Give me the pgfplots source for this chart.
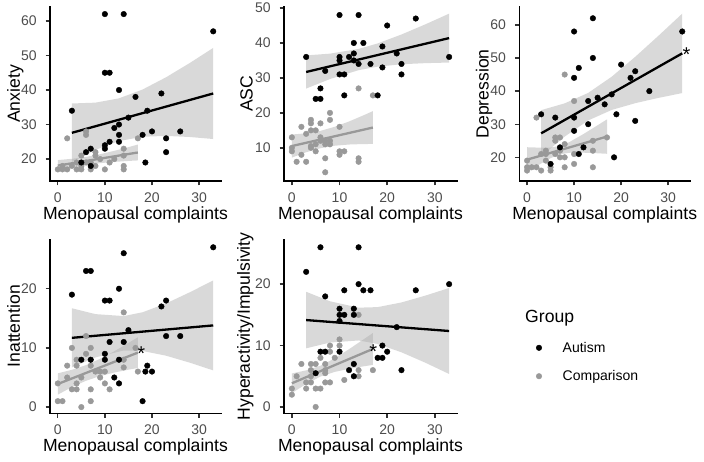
\documentclass[border=0pt]{standalone}
\usepackage{pgfplots}
\pgfplotsset{compat=1.18}
\usepackage{fontspec}
\setmainfont{Liberation Sans}
\definecolor{cgrey}{HTML}{999999}
\definecolor{ribc}{HTML}{B0B0B0}
\definecolor{ticklab}{HTML}{4D4D4D}
\definecolor{tickc}{HTML}{333333}
\newcommand{\titlefont}{\fontsize{17.6}{20}\selectfont}
\newcommand{\tickfont}{\fontsize{14}{16}\selectfont}
\tikzset{astnode/.style={font=\fontsize{20}{22}\selectfont, inner sep=0pt, anchor=center, yshift=-4.2pt},
  ttl/.style={font=\titlefont, inner sep=0pt}}
\pgfplotsset{
  panel/.style={
    scale only axis, height=174pt,
    xmin=-1.65, xmax=34.65,
    axis lines=left, axis line style={-, line width=1.6pt, black, line cap=rect},
    tick align=outside, major tick length=4.4pt,
    tick style={tickc, line width=1.4pt},
    minor tick num=0,
    xtick={0,10,20,30},
    tick label style={font=\tickfont, text=ticklab, inner sep=0pt},
    xticklabel style={anchor=north, yshift=-7pt},
    yticklabel style={anchor=east, xshift=-8.7pt},
    /pgf/number format/assume math mode=true,
    clip=false,
  },
  apt/.style={only marks, mark=*, mark size=2.8pt, black},
  cpt/.style={only marks, mark=*, mark size=2.8pt, color=cgrey},
  rib/.style={fill=ribc, fill opacity=0.48, draw=none},
  aln/.style={black, line width=2.3pt, no marks},
  cln/.style={cgrey, line width=2.3pt, no marks},
}
\begin{document}
\begin{tikzpicture}[x=1pt,y=1pt]
\path[use as bounding box] (0,0) rectangle (704,461);

% ---------- Anxiety ----------
\begin{axis}[panel, at={(50pt,280pt)}, anchor=south west, width=171pt,
  ymin=13.64, ymax=64.05, ytick={20,30,40,50,60}]
\addplot[cpt] coordinates {(2,26) (6,28) (6,27) (17,26) (14,23) (14,21) (14,18) (14,17) (8,22) (8,21) (11,19) (10,17) (0,17) (1,17) (2,17) (4,17) (5,17) (5,21) (4,19) (6,19) (7,19) (9,20) (7,17) (3,18) (5,18) (8,18) (12,20) (1,18)};
\addplot[apt] coordinates {(10,62) (14,62) (33,57) (10,45) (11,45) (13,40) (16.5,38) (3,34) (22,39) (19,34) (15,32) (12,29) (13,30) (13,27) (18,27) (20,28) (26,28) (23,26) (23,22) (18.6,19) (11,25) (13,25) (10,24) (10,23) (7,23) (6,22) (7,18) (5,19)};
\addplot[rib] coordinates {(3,36.1) (8,36.34) (13,37.59) (18,40.14) (23,43.7) (28,47.81) (33,52.2) (33,25.8) (28,26.39) (23,26.7) (18,26.46) (13,25.21) (8,22.66) (3,19.1)} -- cycle;
\addplot[aln] coordinates {(3,27.6) (33,39.0)};
\addplot[rib] coordinates {(0,19.7) (3,20.07) (6,20.62) (9,21.41) (12,22.38) (15,23.45) (17,24.2) (17,19.6) (15,19.45) (12,19.18) (9,18.81) (6,18.26) (3,17.47) (0,16.5)} -- cycle;
\addplot[cln] coordinates {(0,18.1) (17,21.9)};
\end{axis}

% ---------- ASC ----------
\begin{axis}[panel, at={(284pt,280pt)}, anchor=south west, width=173pt,
  ymin=0.5, ymax=50.3, ytick={10,20,30,40,50}]
\addplot[cpt] coordinates {(14,27) (17,25) (0,13) (0,10) (0,9) (2,16) (2,8) (1,6) (3,6) (3,14) (4,18) (4,17) (4,15) (5,15) (4,10.5) (4,10) (5,11) (5,9) (6,17) (6,13) (6,12) (7,11) (8,11) (7,12) (7,7) (7,3) (8,20) (8,18) (10,16) (10,9) (10,8) (11,9) (14,7) (14,6) (8,12)};
\addplot[apt] coordinates {(10,48) (14,48) (26,47) (20,45) (13,40) (15,40) (13,37) (19,39) (3,36) (10,36) (10,35) (12,36) (14,34) (16.5,34) (22,37) (23,34) (23,31) (19,33) (33,36) (10,31) (11,31) (11,25) (18,25) (7,32) (5,24) (6,24) (6,27) (13,35)};
\addplot[rib] coordinates {(3,36.45) (8,36.95) (14,38.3) (18,39.87) (23,42.43) (28,45.33) (33,48.4) (33,34.4) (28,34.23) (23,33.91) (18,33.23) (14,32.22) (8,29.69) (3,26.95)} -- cycle;
\addplot[aln] coordinates {(3,31.7) (33,41.4)};
\addplot[rib] coordinates {(0,13.8) (3,14.15) (6,14.85) (9,16.02) (12,17.54) (15,19.28) (17,20.5) (17,11.1) (15,11.08) (12,10.94) (9,10.6) (6,9.89) (3,8.73) (0,7.2)} -- cycle;
\addplot[cln] coordinates {(0,10.5) (17,15.8)};
\end{axis}

% ---------- Depression ----------
\begin{axis}[panel, at={(519.3pt,280pt)}, anchor=south west, width=170.7pt,
  ymin=12.85, ymax=65.4, ytick={20,30,40,50,60}]
\addplot[cpt] coordinates {(8,45) (2,32) (6,26) (7,26) (6,25) (8,24) (17,26) (14,25) (14,22) (14,17) (10,37) (10,21) (10,18) (8,17) (0,19) (0,17) (0,16) (1,17) (2,17) (3,16) (3,21) (4,21) (4,22) (5,17) (5,16) (7,20) (8,20) (6,21) (4,19) (7,22)};
\addplot[apt] coordinates {(10,58) (14,62) (14,50) (33,58) (11,47) (10,44) (20,48) (23,46) (22,44) (26,40) (18,39) (15,38) (13,37) (16.5,36) (10,32) (10,28) (3,33) (6,32) (13,30) (19,33) (23,31) (18.5,20) (12,23) (11,21) (5,18) (7,23)};
\addplot[rib] coordinates {(3,34.25) (8,36.3) (13,39.46) (18,44.35) (23,50.35) (28,56.79) (33,63.4) (33,39.4) (28,37.97) (23,36.35) (18,34.31) (13,31.14) (8,26.26) (3,20.25)} -- cycle;
\addplot[aln] coordinates {(3,27.25) (33,51.4)};
\addplot[rib] coordinates {(0,23.05) (3,22.91) (5,22.96) (7,23.43) (9,24.6) (12,27.04) (15,29.68) (17,31.47) (17,21.07) (15,21.22) (12,21.4) (9,21.38) (7,20.91) (5,19.74) (3,18.15) (0,15.55)} -- cycle;
\addplot[cln] coordinates {(0,19.3) (17,26.27)};
\node[astnode] at (axis cs:33.9,52.4) {*};
\end{axis}

% ---------- Inattention ----------
\begin{axis}[panel, at={(50pt,47.7pt)}, anchor=south west, width=171pt,
  ymin=-1.05, ymax=28.35, ytick={0,10,20}]
\addplot[cpt] coordinates {(14,16) (6,12) (3,10) (7,10) (16.5,10) (4,8) (2,7) (4,7) (7,7) (14,8) (9,6) (10,6) (14,6.7) (17,6) (0,4) (2,5) (4,4) (5,5) (3,3) (4,3) (7,3) (10,4) (11,3) (0,1) (1,1) (7,1) (5,0) (9,5) (8,6) (6,9)};
\addplot[apt] coordinates {(14,26) (33,27) (6,23) (7,23) (3,19) (13,20) (10,18) (11,18) (23,18) (22,17) (15,13) (11,11) (14,11) (23,12) (26,12) (10,9) (10,8) (7,8) (5,8) (13,8) (12,5) (13,4) (19,7) (18.6,6) (20,6) (18,1)};
\addplot[rib] coordinates {(3,16.7) (8,15.71) (14,15.38) (18,16.02) (23,17.52) (28,19.39) (33,21.4) (33,6.2) (28,7.51) (23,8.68) (18,9.48) (14,9.56) (8,8.39) (3,6.7)} -- cycle;
\addplot[aln] coordinates {(3,11.7) (33,13.8)};
\addplot[rib] coordinates {(0,5.7) (3,6.3) (6,7.09) (9,8.17) (12,9.44) (15,10.84) (17,11.8) (17,6.6) (15,6.32) (12,5.84) (9,5.25) (6,4.45) (3,3.38) (0,2.1)} -- cycle;
\addplot[cln] coordinates {(0,3.9) (17,9.2)};
\node[astnode] at (axis cs:17.7,9.7) {*};
\end{axis}

% ---------- Hyperactivity/Impulsivity ----------
\begin{axis}[panel, at={(284pt,47.7pt)}, anchor=south west, width=173pt,
  ymin=-1.03, ymax=27.3, ytick={0,10,20},
  legend style={at={(axis description cs:1.4393,0.408)}, anchor=north west,
    draw=none, fill=none, inner sep=0pt, outer sep=0pt, row sep=15.4pt,
    /tikz/every odd column/.style={column sep=17.7pt},
    nodes={inner sep=0pt, text height=10pt, text depth=3pt, font=\tickfont, text=black},
    cells={anchor=base west}},
  legend image code/.code={\path[draw=none,fill=none] (-6pt,-3pt) rectangle (6pt,10pt); \draw[#1] plot coordinates {(0pt,4.5pt)};}]
\addplot[cpt, forget plot] coordinates {(14,15) (10,11) (10,10) (8,10) (8,9) (6,8) (9,8) (4,7) (2,7) (5,7) (7,7) (4,6) (14,6) (17,6) (1,5) (4,5) (3,4) (4,4) (7,4) (8,4) (11,4.4) (14,5) (0,3) (0,2) (3,3) (5,3) (6,3) (5,0) (7,6) (7,5.5)};
\addplot[apt, forget plot] coordinates {(6,26) (14,26) (3,22) (14,20) (11,19) (15,19) (16.5,19) (26,19) (33,20) (7,18) (10,16) (10,15) (11,15) (13,16) (13,15) (10,14) (22,13) (6,9) (7,9) (10,9) (19,10) (20,9) (18,8) (19,8) (12,6) (13,7) (13,5) (23,6) (5,5.5)};
\addplot[rib, forget plot] coordinates {(3,18.75) (8,17.21) (14,16.17) (18,16.26) (23,17.02) (28,18.13) (33,19.37) (33,5.37) (28,7.21) (23,8.9) (18,10.26) (14,10.83) (8,10.49) (3,9.55)} -- cycle;
\addplot[aln, forget plot] coordinates {(3,14.15) (33,12.37)};
\addplot[rib, forget plot] coordinates {(0,5.46) (3,5.96) (6,6.71) (9,7.93) (12,9.41) (15,10.99) (17,12.05) (17,6.85) (15,6.61) (12,6.21) (9,5.71) (6,4.95) (3,3.74) (0,2.26)} -- cycle;
\addplot[cln, forget plot] coordinates {(0,3.86) (17,9.45)};
\node[astnode] at (axis cs:17.1,9.73) {*};
\addlegendimage{apt}
\addlegendentry{Autism}
\addlegendimage{cpt}
\addlegendentry{Comparison}
\end{axis}

% ---------- titles ----------
\node[ttl, anchor=base] at (135.5,241.2) {Menopausal complaints};
\node[ttl, anchor=base] at (370.5,241.2) {Menopausal complaints};
\node[ttl, anchor=base] at (604.7,241.2) {Menopausal complaints};
\node[ttl, anchor=base] at (135.5,9.2) {Menopausal complaints};
\node[ttl, anchor=base] at (370.5,9.2) {Menopausal complaints};
\node[ttl, anchor=base, rotate=90] at (19.8,367.1) {Anxiety};
\node[ttl, anchor=base, rotate=90] at (252.5,367.1) {ASC};
\node[ttl, anchor=base, rotate=90] at (488.5,367.1) {Depression};
\node[ttl, anchor=base, rotate=90] at (19.8,134.7) {Inattention};
\node[ttl, anchor=base, rotate=90] at (249.8,134.7) {Hyperactivity/Impulsivity};
\node[ttl, anchor=base west] at (525,138.3) {Group};
\end{tikzpicture}
\end{document}
